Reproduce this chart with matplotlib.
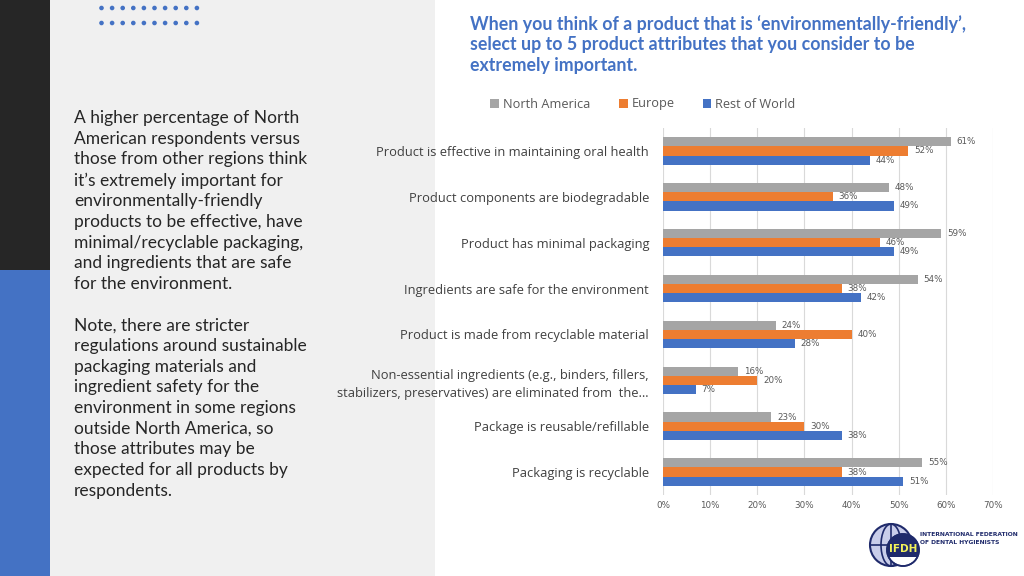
import matplotlib
matplotlib.use("Agg")
import matplotlib.pyplot as plt
import numpy as np
from matplotlib.patches import Rectangle, Circle, Ellipse

categories = [
    "Product is effective in maintaining oral health",
    "Product components are biodegradable",
    "Product has minimal packaging",
    "Ingredients are safe for the environment",
    "Product is made from recyclable material",
    "Non-essential ingredients (e.g., binders, fillers,\nstabilizers, preservatives) are eliminated from  the\u2026",
    "Package is reusable/refillable",
    "Packaging is recyclable",
]
series_names = ["North America", "Europe", "Rest of World"]
north_america = [61, 48, 59, 54, 24, 16, 23, 55]
europe = [52, 36, 46, 38, 40, 20, 30, 38]
rest_of_world = [44, 49, 49, 42, 28, 7, 38, 51]
x_ticks = [0, 10, 20, 30, 40, 50, 60, 70]
x_tick_labels = [f"{t}%" for t in x_ticks]

title = ("When you think of a product that is \u2018environmentally-friendly\u2019,\n"
         "select up to 5 product attributes that you consider to be\n"
         "extremely important.")
left_text = ("A higher percentage of North\nAmerican respondents versus\n"
             "those from other regions think\nit\u2019s extremely important for\n"
             "environmentally-friendly\nproducts to be effective, have\n"
             "minimal/recyclable packaging,\nand ingredients that are safe\n"
             "for the environment.\n\n"
             "Note, there are stricter\nregulations around sustainable\n"
             "packaging materials and\ningredient safety for the\n"
             "environment in some regions\noutside North America, so\n"
             "those attributes may be\nexpected for all products by\nrespondents.")

colors = ["#a5a5a5", "#ed7d31", "#4472c4"]
W, H = 1024, 576
fig = plt.figure(figsize=(W / 100, H / 100), dpi=100)
fig.patch.set_facecolor("white")

# background panels
bg = fig.add_axes([0, 0, 1, 1])
bg.set_xlim(0, W); bg.set_ylim(H, 0); bg.axis("off")
bg.add_patch(Rectangle((0, 0), 50, 270, color="#262626", lw=0))
bg.add_patch(Rectangle((0, 270), 50, 306, color="#4472c4", lw=0))
bg.add_patch(Rectangle((50, 0), 385, 576, color="#f0f0f0", lw=0))
# dots
for row_y in (8, 23):
    for i in range(10):
        bg.add_patch(Circle((101.5 + i * 10.6, row_y), 2.3, color="#4472c4", lw=0))

# logo
navy = "#1f2a6b"
bg.add_patch(Circle((891, 545), 21, facecolor="#c9cdea", edgecolor=navy, lw=1.5))
bg.plot([870, 912], [545, 545], color=navy, lw=1.2)
bg.plot([891, 891], [524, 566], color=navy, lw=1.2)
bg.add_patch(Ellipse((891, 545), 20, 42, fill=False, edgecolor=navy, lw=1.2))
inner = Circle((903, 550), 16, facecolor="white", edgecolor=navy, lw=1.2, zorder=3)
bg.add_patch(inner)
top = Rectangle((885, 530), 40, 27, facecolor=navy, lw=0, zorder=4)
bg.add_patch(top)
top.set_clip_path(inner)
bg.add_patch(Circle((903, 550), 16, fill=False, edgecolor=navy, lw=1.2, zorder=5))
bg.text(903, 549, "IFDH", color="#f2f25a", fontsize=7.5, fontweight="bold",
        ha="center", va="center", family="DejaVu Sans", zorder=6)
bg.text(920, 535, "INTERNATIONAL FEDERATION", color=navy, fontsize=4.3,
        fontweight="bold", va="center", family="DejaVu Sans")
bg.text(920, 543, "OF DENTAL HYGIENISTS", color=navy, fontsize=4.3,
        fontweight="bold", va="center", family="DejaVu Sans")

# texts
fig.text(470 / W, 1 - 15 / H, title, color="#4472c4", fontsize=12.8, fontweight="bold",
         va="top", ha="left", family="Lato", linespacing=1.25)
fig.text(74 / W, 1 - 110 / H, left_text, color="#262626", fontsize=12.5,
         va="top", ha="left", family="Lato", linespacing=1.36)

# chart
ax = fig.add_axes([663 / W, 1 - 495 / H, 330 / W, 367 / H])
y = np.arange(len(categories))
bh = 0.2
for k, (vals, c) in enumerate(zip([north_america, europe, rest_of_world], colors)):
    pos = y + (k - 1) * bh
    ax.barh(pos, vals, height=bh, color=c, label=series_names[k], zorder=3)
    for p, v in zip(pos, vals):
        ax.text(v + 1.2, p, f"{v}%", va="center", ha="left", fontsize=6.3, color="#595959")
ax.set_ylim(len(categories) - 0.5, -0.5)
ax.set_xlim(0, 70)
ax.set_xticks(x_ticks)
ax.set_xticklabels(x_tick_labels, fontsize=6.3, color="#595959")
ax.set_yticks(y)
ax.set_yticklabels(categories, fontsize=9.3, color="#404040", family="Open Sans", linespacing=1.5)
ax.tick_params(axis="x", length=0, pad=4)
ax.tick_params(axis="y", length=0, pad=10)
ax.grid(axis="x", color="#d9d9d9", lw=0.8, zorder=0)
for s in ax.spines.values():
    s.set_visible(False)
ax.set_facecolor("none")

handles, labels = ax.get_legend_handles_labels()
fig.legend(handles, labels, loc="center", bbox_to_anchor=(643 / W, 1 - 104 / H), ncol=3,
           frameon=False, handlelength=0.7, handleheight=0.7,
           columnspacing=2.2, handletextpad=0.3, labelcolor="#595959",
           prop={"family": "Open Sans", "size": 9.2})

fig.savefig("out.png", dpi=100)
